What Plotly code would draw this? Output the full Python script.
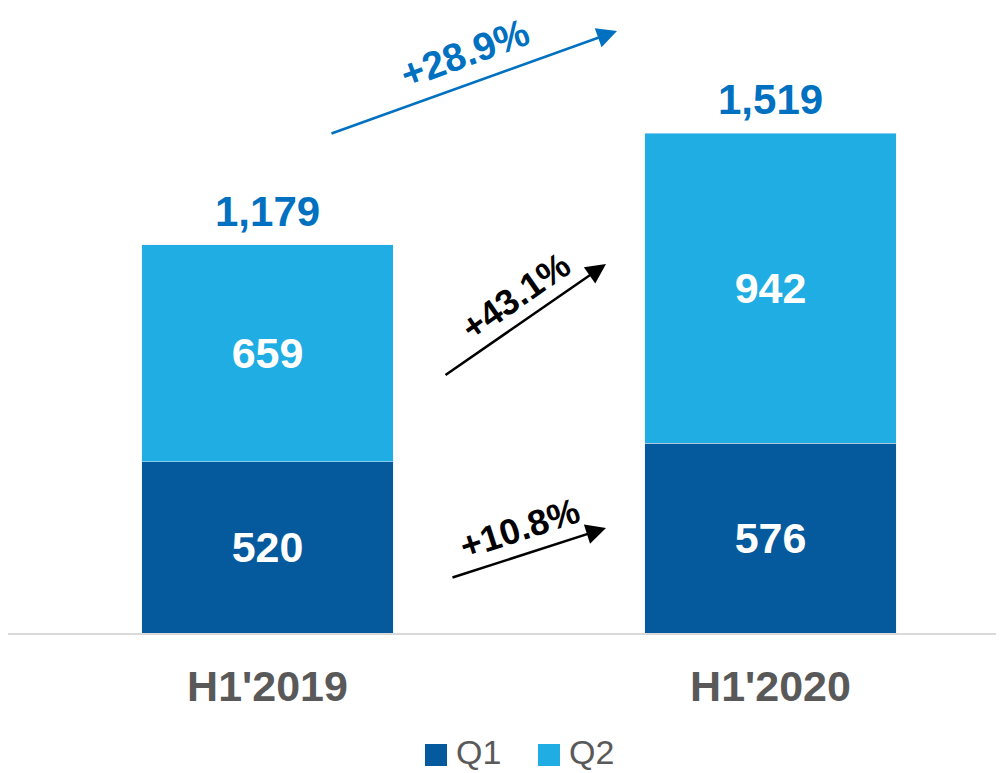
import plotly.graph_objects as go

periods = ["H1'2019", "H1'2020"]
q1 = [520, 576]
q2 = [659, 942]
totals = [1179, 1519]
growth_labels = ["+28.9%", "+43.1%", "+10.8%"]
series_names = ["Q1", "Q2"]

Q1_COLOR = "#045A9C"
Q2_COLOR = "#1FADE4"
TOTAL_COLOR = "#0070C0"
GREY = "#595959"
FONT = "Liberation Sans, Arial, sans-serif"

# the html page puts the figure 8px in from the window corner
OFF = 8
W, H = 1004 - OFF, 773 - OFF
BASE_PX = 633           # screen y of the baseline
PX_PER_X = 503.0        # screen px between the two bar centres
X0_PX = 267.5           # screen x of the first bar centre
PX_PER_Y = 500 / 1519


def dx(px):
    return (px - X0_PX) / PX_PER_X


def dy(py):
    return (BASE_PX - py) / PX_PER_Y


def paper_x(px):
    return (px - OFF) / W


def paper_y(py):
    return (BASE_PX - py) / (BASE_PX - OFF)


x_pos = [0, 1]

fig = go.Figure()
for vals, name, color in [(q1, series_names[0], Q1_COLOR), (q2, series_names[1], Q2_COLOR)]:
    fig.add_trace(go.Bar(
        x=x_pos, y=vals, name=name, marker_color=color, width=0.5,
        text=[f"{v:,}" for v in vals], textposition="inside", insidetextanchor="middle",
        textfont=dict(color="white", size=43, family=FONT, weight="bold"),
        showlegend=False, cliponaxis=False,
    ))

for x, t in zip(x_pos, totals):
    fig.add_annotation(
        x=x, y=t, xref="x", yref="y", text=f"<b>{t:,}</b>", showarrow=False,
        yanchor="bottom", yshift=8,
        font=dict(color=TOTAL_COLOR, size=42, family=FONT),
    )

arrows = [
    # label, color, tail(px), head(px), text centre(px), angle, size
    (growth_labels[0], TOTAL_COLOR, (330, 134), (617, 31), (464, 53), -20, 39),
    (growth_labels[1], "black", (444, 376), (606, 264), (515, 296), -35, 36),
    (growth_labels[2], "black", (451, 578), (606, 528), (519, 528), -18, 36),
]
for label, color, tail, head, centre, angle, size in arrows:
    fig.add_annotation(
        x=dx(head[0]), y=dy(head[1]), ax=dx(tail[0]), ay=dy(tail[1]),
        xref="x", yref="y", axref="x", ayref="y", text="",
        showarrow=True, arrowhead=2, arrowsize=1.6, arrowwidth=2.5, arrowcolor=color,
    )
    fig.add_annotation(
        x=dx(centre[0]), y=dy(centre[1]), xref="x", yref="y", text=f"<b>{label}</b>",
        showarrow=False, textangle=angle, borderpad=0,
        font=dict(color=color, size=size, family=FONT),
    )

# legend drawn by hand so the swatches can be as big as in the original
for name, color, sq_left in [(series_names[0], Q1_COLOR, 425), (series_names[1], Q2_COLOR, 538)]:
    fig.add_shape(
        type="rect", xref="paper", yref="paper",
        x0=paper_x(sq_left), x1=paper_x(sq_left + 22),
        y0=paper_y(766), y1=paper_y(744),
        fillcolor=color, line_width=0,
    )
    fig.add_annotation(
        x=paper_x(sq_left + 30), y=paper_y(752), xref="paper", yref="paper",
        text=name, showarrow=False, xanchor="left", yanchor="middle",
        borderpad=0, font=dict(size=34, color=GREY, family=FONT),
    )

fig.update_layout(
    barmode="stack",
    width=W, height=H,
    margin=dict(l=0, r=0, t=0, b=H - (BASE_PX - OFF)),
    paper_bgcolor="white", plot_bgcolor="white",
    font=dict(family=FONT, color=GREY),
    showlegend=False,
)
fig.update_xaxes(
    range=[dx(OFF), dx(1004)], tickvals=x_pos, ticktext=periods,
    tickfont=dict(size=43, color=GREY, family=FONT, weight="bold"),
    showline=True, linecolor="#D9D9D9", linewidth=2, showgrid=False,
    zeroline=False, ticks="", ticklabelstandoff=14, fixedrange=True,
)
fig.update_yaxes(
    range=[0, dy(OFF)], visible=False, showgrid=False, zeroline=False, fixedrange=True,
)

fig.write_html("out.html", config={"displayModeBar": False})
